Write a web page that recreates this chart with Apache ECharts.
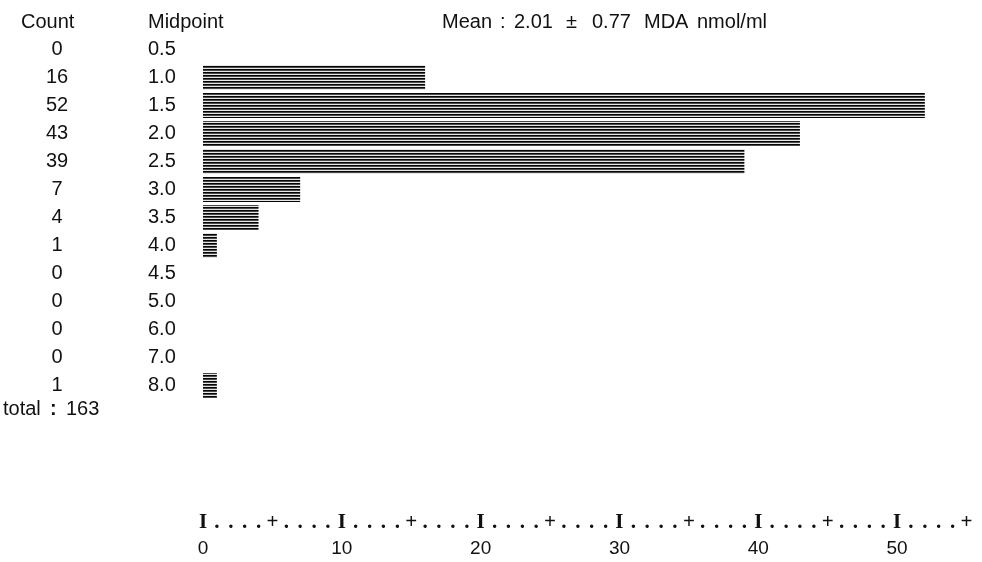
<!DOCTYPE html>
<html><head><meta charset="utf-8">
<script src="https://cdn.jsdelivr.net/npm/echarts@6/dist/echarts.min.js"></script>
<style>html,body{margin:0;padding:0;background:#fff}#c{width:982px;height:562px}</style>
</head><body><div id="c"></div>
<script>
const midpoints = ['0.5','1.0','1.5','2.0','2.5','3.0','3.5','4.0','4.5','5.0','6.0','7.0','8.0'];
const counts = [0,16,52,43,39,7,4,1,0,0,0,0,1];
const xTickLabels = [0,10,20,30,40,50];
const totalCount = 163;
const meanParts = ['Mean', ':', '2.01', '\u00b1', '0.77', 'MDA', 'nmol/ml'];

const pat = document.createElement('canvas');
pat.width = 48; pat.height = 3;
const g = pat.getContext('2d');
g.fillStyle = '#e6e6e6'; g.fillRect(0,0,48,3);
g.fillStyle = '#050505'; g.fillRect(0,0,48,1);
g.fillStyle = '#4a4a4a'; g.fillRect(0,1,48,1);

const font = '20px "Liberation Sans"';
const sans = 'Liberation Sans';
const chart = echarts.init(document.getElementById('c'));
const gridTop = 35.5, rowH = 28, n = midpoints.length;
const gridBottomY = gridTop + rowH * n;
const meanX = [442, 500, 514, 566, 592, 644, 697];
const graphics = meanParts.map((t, i) => ({ type: 'text', left: meanX[i], top: 12,
  style: { text: t, font: font, fill: '#111' } }));
graphics.push(
  { type: 'text', left: 21, top: 12, style: { text: 'Count', font: font, fill: '#111' } },
  { type: 'text', left: 148, top: 12, style: { text: 'Midpoint', font: font, fill: '#111' } },
  { type: 'text', left: 3, top: 399, style: { text: 'total', font: font, fill: '#111' } },
  { type: 'text', left: 50, top: 399, style: { text: ':', font: 'bold 20px "Liberation Sans"', fill: '#111' } },
  { type: 'text', left: 66, top: 399, style: { text: String(totalCount), font: font, fill: '#111' } }
);
chart.setOption({
  animation: false,
  grid: { left: 203, right: 15.5, top: gridTop, height: rowH * n },
  xAxis: [
    { type: 'value', min: 0, max: 55, interval: 1, position: 'bottom', offset: 523 - gridBottomY,
      axisLine: {show:false}, axisTick: {show:false}, splitLine: {show:false},
      axisLabel: { margin: 0, verticalAlign: 'middle', fontFamily: 'Liberation Serif', fontWeight: 'bold', fontSize: 21, color: '#111',
        formatter: v => (v % 10 === 0 ? 'I' : (v % 5 === 0 ? '+' : '.')) } },
    { type: 'value', min: 0, max: 55, interval: 1, position: 'bottom', offset: 549 - gridBottomY,
      axisLine: {show:false}, axisTick: {show:false}, splitLine: {show:false},
      axisLabel: { margin: 0, verticalAlign: 'middle', fontFamily: sans, fontSize: 19, color: '#111',
        formatter: v => (xTickLabels.indexOf(v) >= 0 ? String(v) : '') } }
  ],
  yAxis: [
    { type: 'category', data: midpoints, inverse: true, position: 'left',
      axisLine: {show:false}, axisTick: {show:false},
      axisLabel: { align: 'left', margin: 55, padding: [0,0,6,0], fontFamily: sans, fontSize: 20, color: '#111' } },
    { type: 'category', data: midpoints, inverse: true, position: 'left',
      axisLine: {show:false}, axisTick: {show:false},
      axisLabel: { align: 'center', margin: 146, padding: [0,0,6,0], fontFamily: sans, fontSize: 20, color: '#111',
        formatter: (v, i) => String(counts[i]) } }
  ],
  series: [{
    type: 'bar', data: counts, xAxisIndex: 0, yAxisIndex: 0, barWidth: 25,
    itemStyle: { color: { image: pat, repeat: 'repeat' } }
  }],
  graphic: graphics
});
</script></body></html>
